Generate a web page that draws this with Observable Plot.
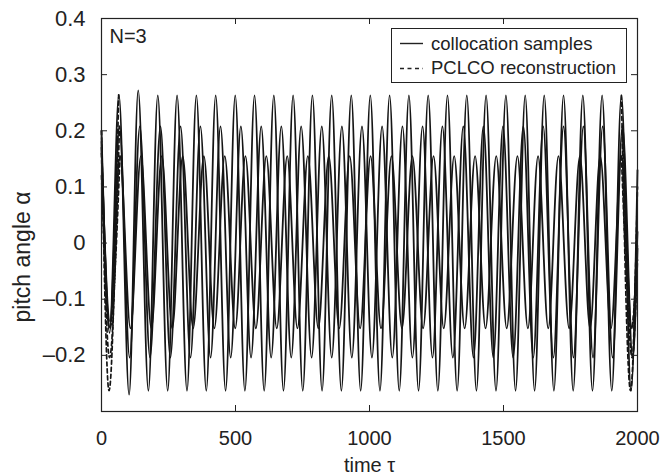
<!DOCTYPE html>
<html><head><meta charset="utf-8">
<script src="https://cdn.jsdelivr.net/npm/d3@7"></script>
<script src="https://cdn.jsdelivr.net/npm/@observablehq/plot@0.6"></script>
<style>
body{margin:0;background:#fff;}
#wrap{position:relative;width:662px;height:476px;font-family:"Liberation Sans",Arial,sans-serif;}
#legend{position:absolute;left:391px;top:28px;}
</style></head><body>
<div id="wrap"><div id="chart"></div>
<svg id="legend" width="237" height="56">
  <rect x="0.5" y="0.5" width="235" height="54" fill="#fff" stroke="#222" stroke-width="1"/>
  <line x1="9" x2="32" y1="15.5" y2="15.5" stroke="#222" stroke-width="1.4"/>
  <line x1="9" x2="32" y1="40.5" y2="40.5" stroke="#222" stroke-width="1.4" stroke-dasharray="4,3.5"/>
  <text x="40" y="22" font-size="18.5" fill="#222" font-family="Liberation Sans, Arial, sans-serif">collocation samples</text>
  <text x="40" y="46" font-size="18.5" fill="#222" font-family="Liberation Sans, Arial, sans-serif">PCLCO reconstruction</text>
</svg>
</div>
<script>
// tick values
const xTicks = [0, 500, 1000, 1500, 2000];
const yTicks = [-0.2, -0.1, 0, 0.1, 0.2, 0.3, 0.4];

// collocation sample 1 (largest amplitude): times of extrema and values
const bigT = [0,30,65,103,137,175,210,247,282,319,354,391,426,463,499,535,571,607,643,679,715,751,787,823,859,895,932,967,1003,1039,1075,1111,1147,1183,1219,1255,1291,1327,1363,1399,1435,1472,1509,1545,1581,1616,1652,1688,1724,1760,1796,1832,1868,1904,1940,1976,2000];
const bigV = [0.20,-0.16,0.264,-0.27,0.272,
 -0.263,0.263, -0.263,0.263, -0.263,0.263, -0.263,0.263, -0.263,0.263,
 -0.263,0.263, -0.263,0.263, -0.263,0.263, -0.263,0.263, -0.263,0.263,
 -0.263,0.263, -0.263,0.263, -0.263,0.263, -0.263,0.263, -0.263,0.263,
 -0.263,0.263, -0.263,0.263, -0.263,0.263, -0.263,0.263, -0.263,0.263,
 -0.263,0.263, -0.263,0.263, -0.263,0.263, -0.263,0.263, -0.263,0.263,
 -0.263,0.13];

// collocation sample 2 (medium amplitude)
const midT = [0,31,67,105,143,181,220,257,295,332,369,407,444,482,520,558,596,633,671,708,745,784,822,859,897,934,972,1009,1047,1085,1123,1160,1198,1235,1272,1311,1350,1388,1425,1462,1498,1536,1574,1611,1648,1686,1724,1761,1798,1834,1870,1907,1944,1982,2000];
const midV = [0.18,-0.15,0.208,
 -0.204,0.208, -0.204,0.208, -0.204,0.208, -0.204,0.208, -0.204,0.208,
 -0.204,0.208, -0.204,0.208, -0.204,0.208, -0.204,0.208, -0.204,0.208,
 -0.204,0.208, -0.204,0.208, -0.204,0.208, -0.204,0.208, -0.204,0.208,
 -0.204,0.208, -0.204,0.208, -0.204,0.208, -0.204,0.208, -0.204,0.208,
 -0.204,0.208, -0.204,0.208, -0.204,0.208, -0.204,0.208, -0.204,0.208,
 -0.204,-0.01];

// collocation sample 3 (smallest amplitude)
const smallT = [0,32,69,108,147,186,225,264,303,342,382,421,460,499,537,576,615,654,693,731,770,809,848,887,926,965,1004,1043,1082,1121,1160,1200,1239,1277,1316,1355,1394,1433,1473,1512,1552,1591,1629,1667,1705,1745,1785,1823,1861,1901,1940,1979,2000];
const smallV = [0.17,-0.14,0.155,
 -0.152,0.155, -0.152,0.155, -0.152,0.155, -0.152,0.155, -0.152,0.155, -0.152,0.155,
 -0.152,0.155, -0.152,0.155, -0.152,0.155, -0.152,0.155, -0.152,0.155, -0.152,0.155,
 -0.152,0.155, -0.152,0.155, -0.152,0.155, -0.152,0.155, -0.152,0.155, -0.152,0.155,
 -0.152,0.155, -0.152,0.155, -0.152,0.155, -0.152,0.155, -0.152,0.155, -0.152,0.155,
 -0.152,0.02];

// PCLCO reconstruction (dashed): one period at the start and near the end
const recStartBigT = [0,28,64],   recStartBigV = [0.20,-0.263,0.264];
const recStartMidT = [0,30,67],   recStartMidV = [0.16,-0.204,0.208];
const recStartSmallT = [0,31,69], recStartSmallV = [0.12,-0.152,0.155];
const recEndBigT = [1940,1974,2000],   recEndBigV = [0.263,-0.263,0.10];
const recEndMidT = [1944,1980,2000],   recEndMidV = [0.208,-0.204,-0.03];
const recEndSmallT = [1940,1977,2000], recEndSmallV = [0.155,-0.152,0.0];

const toRows = (name, T, V) => T.map((t, i) => ({s: name, t, v: V[i]}));
const samples = [
  ...toRows("s1", bigT, bigV),
  ...toRows("s2", midT, midV),
  ...toRows("s3", smallT, smallV)
];
const recon = [
  ...toRows("r1a", recStartBigT, recStartBigV),
  ...toRows("r2a", recStartMidT, recStartMidV),
  ...toRows("r3a", recStartSmallT, recStartSmallV),
  ...toRows("r1b", recEndBigT, recEndBigV),
  ...toRows("r2b", recEndMidT, recEndMidV),
  ...toRows("r3b", recEndSmallT, recEndSmallV)
];

const W = 662, H = 476, ml = 101, mr = 25, mt = 18, mb = 65;
const plotW = W - ml - mr, plotH = H - mt - mb;
const ink = "#222";
const fmt = d => d === 0 ? "0" : (d < 0 ? "\u2013" : "") + Math.abs(d).toFixed(1);

const chart = Plot.plot({
  width: W, height: H,
  marginLeft: ml, marginRight: mr, marginTop: mt, marginBottom: mb,
  style: {fontFamily: "Liberation Sans, Arial, sans-serif", fontSize: "20px", color: ink, background: "#fff"},
  x: {domain: [0, 2000]},
  y: {domain: [-0.3, 0.4]},
  marks: [
    Plot.line(samples, {x: "t", y: "v", z: "s", curve: "monotone-x", stroke: "#151515", strokeWidth: 1.8}),
    Plot.line(recon, {x: "t", y: "v", z: "s", curve: "monotone-x", stroke: "#151515", strokeWidth: 1.7, strokeDasharray: "4,3"}),
    Plot.frame({stroke: ink, strokeWidth: 1.2}),
    Plot.tickX(xTicks, {x: d => d, insetTop: plotH - 6, stroke: ink}),
    Plot.tickX(xTicks, {x: d => d, insetBottom: plotH - 6, stroke: ink}),
    Plot.tickY(yTicks, {y: d => d, insetRight: plotW - 6, stroke: ink}),
    Plot.tickY(yTicks, {y: d => d, insetLeft: plotW - 6, stroke: ink}),
    Plot.axisX(xTicks, {tickSize: 0, tickPadding: 19, tickFormat: d => String(d), label: null, fontSize: 20}),
    Plot.axisY(yTicks, {tickSize: 0, tickPadding: 16, tickFormat: fmt, label: null, fontSize: 22}),
    Plot.text(["time \u03c4"], {frameAnchor: "bottom", textAnchor: "middle", lineAnchor: "middle", dy: 54, fontSize: 20, fill: ink}),
    Plot.text(["pitch angle \u03b1"], {frameAnchor: "left", textAnchor: "middle", lineAnchor: "middle", rotate: -90, dx: -79, dy: 42, fontSize: 23, fill: ink}),
    Plot.text(["N=3"], {frameAnchor: "top-left", dx: 8, dy: 10, textAnchor: "start", lineAnchor: "top", fontSize: 20, fill: ink})
  ]
});
document.getElementById("chart").appendChild(chart);
</script>
</body></html>
